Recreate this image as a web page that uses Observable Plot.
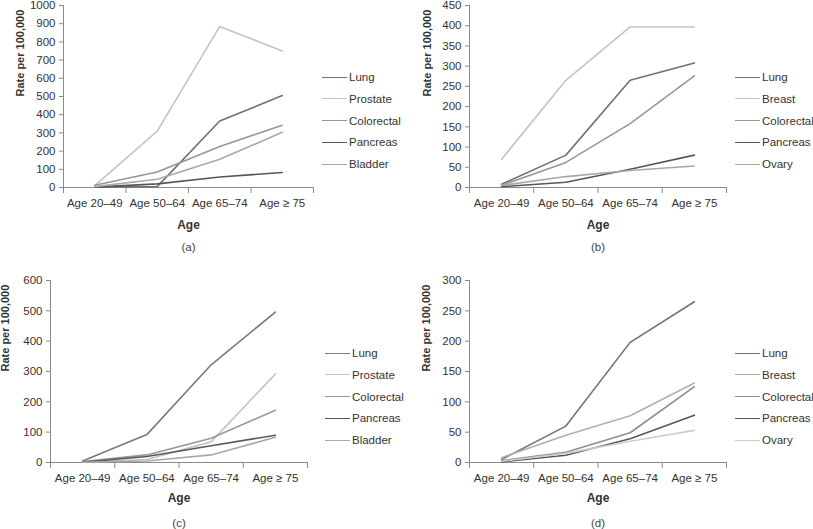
<!DOCTYPE html>
<html><head><meta charset="utf-8">
<script src="https://cdn.jsdelivr.net/npm/d3@7"></script>
<script src="https://cdn.jsdelivr.net/npm/@observablehq/plot@0.6"></script>
<style>
body{margin:0;background:#fff;font-family:"Liberation Sans",Arial,sans-serif;}
#root{position:relative;width:813px;height:529px;overflow:hidden;}
.panel{position:absolute;}
.legend{position:absolute;font-size:11.5px;color:#333;}
.item{position:absolute;left:0;white-space:nowrap;display:flex;align-items:center;height:16px;}
.sw{display:inline-block;width:25px;height:0;border-top:1.6px solid;margin-right:2px;}
</style></head><body><div id="root"></div>
<script>
const ages = ["Age 20–49", "Age 50–64", "Age 65–74", "Age ≥ 75"];

// (a)
const seriesA = ["Lung", "Prostate", "Colorectal", "Pancreas", "Bladder"];
const lungA = [3, 5, 365, 505];
const prostateA = [10, 310, 885, 750];
const colorectalA = [12, 85, 225, 342];
const pancreasA = [2, 20, 58, 82];
const bladderA = [5, 45, 155, 303];
const ticksA = [0, 100, 200, 300, 400, 500, 600, 700, 800, 900, 1000];

// (b)
const seriesB = ["Lung", "Breast", "Colorectal", "Pancreas", "Ovary"];
const lungB = [8, 80, 265, 308];
const breastB = [70, 265, 397, 397];
const colorectalB = [5, 62, 158, 276];
const pancreasB = [2, 13, 45, 80];
const ovaryB = [5, 27, 42, 53];
const ticksB = [0, 50, 100, 150, 200, 250, 300, 350, 400, 450];

// (c)
const seriesC = ["Lung", "Prostate", "Colorectal", "Pancreas", "Bladder"];
const lungC = [5, 92, 322, 496];
const prostateC = [1, 10, 68, 292];
const colorectalC = [3, 25, 80, 172];
const pancreasC = [1, 20, 55, 90];
const bladderC = [1, 5, 25, 83];
const ticksC = [0, 100, 200, 300, 400, 500, 600];

// (d)
const seriesD = ["Lung", "Breast", "Colorectal", "Pancreas", "Ovary"];
const lungD = [5, 60, 198, 265];
const breastD = [8, 45, 77, 131];
const colorectalD = [3, 17, 49, 125];
const pancreasD = [1, 12, 39, 78];
const ovaryD = [2, 15, 35, 53];
const ticksD = [0, 50, 100, 150, 200, 250, 300];

const colorsA = ["#717171", "#c3c3c3", "#979797", "#575757", "#a8a8a8"];
const colorsB = ["#717171", "#c3c3c3", "#979797", "#575757", "#a8a8a8"];
const colorsC = ["#7a7a7a", "#c3c3c3", "#979797", "#575757", "#a8a8a8"];
const colorsD = ["#737373", "#b0b0b0", "#8e8e8e", "#575757", "#cdcdcd"];

const font = "'Liberation Sans', Arial, sans-serif";

const panels = [
  {tag: "(a)", series: seriesA, values: [lungA, prostateA, colorectalA, pancreasA, bladderA], ticks: ticksA, colors: colorsA,
   left: 0, top: 0, width: 400, height: 260, ml: 63, mr: 87, mt: 5, mb: 73, ydx: -43, ageDy: 38, tagDy: 60,
   legLeft: 322, legTop: 77},
  {tag: "(b)", series: seriesB, values: [lungB, breastB, colorectalB, pancreasB, ovaryB], ticks: ticksB, colors: colorsB,
   left: 400, top: 0, width: 413, height: 260, ml: 69, mr: 87, mt: 5, mb: 73, ydx: -42, ageDy: 38, tagDy: 60,
   legLeft: 735, legTop: 77},
  {tag: "(c)", series: seriesC, values: [lungC, prostateC, colorectalC, pancreasC, bladderC], ticks: ticksC, colors: colorsC,
   left: 0, top: 265, width: 400, height: 264, ml: 50, mr: 93, mt: 15, mb: 67, ydx: -45, ageDy: 36, tagDy: 61,
   legLeft: 325, legTop: 353},
  {tag: "(d)", series: seriesD, values: [lungD, breastD, colorectalD, pancreasD, ovaryD], ticks: ticksD, colors: colorsD,
   left: 400, top: 265, width: 413, height: 264, ml: 69, mr: 87, mt: 15, mb: 67, ydx: -43, ageDy: 36, tagDy: 61,
   legLeft: 735, legTop: 353}
];

const root = document.getElementById("root");

for (const p of panels) {
  const rows = p.series.flatMap((s, i) => p.values[i].map((v, j) => ({series: s, idx: j, value: v})));
  const yMax = p.ticks[p.ticks.length - 1];
  const chart = Plot.plot({
    width: p.width, height: p.height,
    marginLeft: p.ml, marginRight: p.mr, marginTop: p.mt, marginBottom: p.mb,
    style: {fontFamily: font, color: "#333", background: "transparent", overflow: "visible"},
    x: {domain: [0, ages.length], axis: null},
    y: {domain: [0, yMax], axis: null},
    color: {domain: p.series, range: p.colors},
    marks: [
      Plot.axisY({ticks: p.ticks, tickSize: 4, tickPadding: 4, stroke: "#8a8a8a", label: null, fontSize: 11.5, tickFormat: d => String(d)}),
      Plot.axisX({ticks: d3.range(ages.length + 1), tickSize: 6, tickFormat: () => "", label: null, stroke: "#8a8a8a"}),
      Plot.axisX({ticks: ages.map((a, i) => i + 0.5), tickSize: 0, tickPadding: 11, tickFormat: v => ages[Math.floor(v)], label: null, fontSize: 11.5}),
      Plot.ruleX([0], {stroke: "#8a8a8a"}),
      Plot.ruleY([0], {stroke: "#8a8a8a"}),
      Plot.line(rows, {x: d => d.idx + 0.5, y: "value", z: "series", stroke: "series", strokeWidth: 1.6}),
      Plot.text(["Rate per 100,000"], {text: d => d, frameAnchor: "left", lineAnchor: "middle", rotate: -90, dx: p.ydx, fontWeight: "bold", fontSize: 11, fill: "#333"}),
      Plot.text(["Age"], {text: d => d, frameAnchor: "bottom", lineAnchor: "middle", dy: p.ageDy, fontWeight: "bold", fontSize: 12, fill: "#333"}),
      Plot.text([p.tag], {text: d => d, frameAnchor: "bottom", lineAnchor: "middle", dy: p.tagDy, fontSize: 11.5, fill: "#444"})
    ]
  });
  const wrap = document.createElement("div");
  wrap.className = "panel";
  wrap.style.left = p.left + "px";
  wrap.style.top = p.top + "px";
  wrap.appendChild(chart);
  root.appendChild(wrap);

  const leg = document.createElement("div");
  leg.className = "legend";
  leg.style.left = p.legLeft + "px";
  leg.style.top = (p.legTop - 8) + "px";
  p.series.forEach((s, i) => {
    const it = document.createElement("div");
    it.className = "item";
    it.style.top = (i * 21.8) + "px";
    const sw = document.createElement("span");
    sw.className = "sw";
    sw.style.borderTopColor = p.colors[i];
    it.appendChild(sw);
    it.appendChild(document.createTextNode(s));
    leg.appendChild(it);
  });
  root.appendChild(leg);
}
</script>
</body></html>
